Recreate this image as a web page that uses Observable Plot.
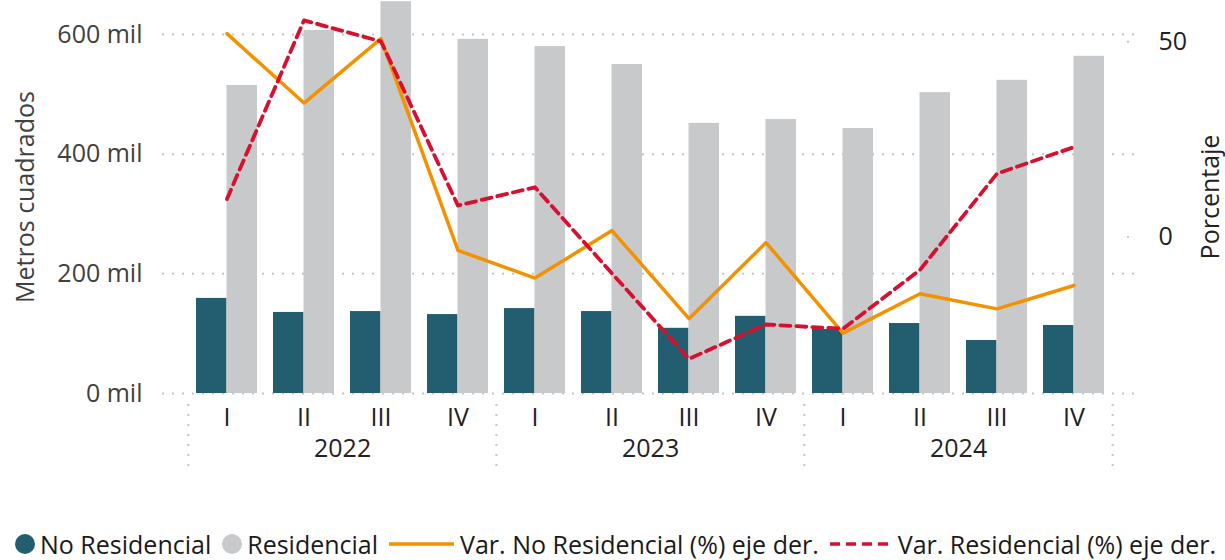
<!DOCTYPE html>
<html><head><meta charset="utf-8">
<script src="https://cdn.jsdelivr.net/npm/d3@7"></script>
<script src="https://cdn.jsdelivr.net/npm/@observablehq/plot@0.6"></script>
<style>
body{margin:0;background:#fff;font-family:"Open Sans",sans-serif;}
#legend{display:flex;align-items:center;height:40px;margin-top:24px;padding-left:15px;font-size:25px;color:#1a1a1a;white-space:nowrap;}
.item{display:flex;align-items:center;margin-right:11px;}
.item svg{margin-right:6px;display:block}
</style></head><body>
<div id="chart"></div><div id="legend"></div>
<script>
const years = ["2022", "2023", "2024"];
const quarters = ["I", "II", "III", "IV"];
const noResidencial = [159000, 135500, 137000, 132000, 142000, 137000, 109000, 129000, 107000, 117000, 88600, 113700];
const residencial = [515000, 607000, 655000, 592000, 580000, 550000, 451600, 458000, 443000, 503000, 523500, 563700];
const varNoResidencial = [52.1, 34.3, 50.8, -3.5, -10.6, 1.6, -21.0, -1.5, -24.7, -14.6, -18.5, -12.5];
const varResidencial = [9.7, 55.5, 50.1, 8.0, 12.7, -9.4, -31.3, -22.5, -23.6, -8.5, 16.2, 23.0];
const leftTicks = [0, 200000, 400000, 600000];
const rightTicks = [0, 50];
const leftDomain = [0, 657000];
const rightDomain = [-40.2, 60.6];
const seriesNames = ["No Residencial", "Residencial", "Var. No Residencial (%) eje der.", "Var. Residencial (%) eje der."];
const colors = ["#235E70", "#C8C9CB", "#F39200", "#D7102F"];

const keys = years.flatMap(y => quarters.map(q => `${y}-${q}`));
const data = keys.map((k, i) => ({k, nores: noResidencial[i], res: residencial[i], vn: varNoResidencial[i], vr: varResidencial[i]}));
const toLeft = p => (p - rightDomain[0]) / (rightDomain[1] - rightDomain[0]) * leftDomain[1];
const fromLeft = v => v / leftDomain[1] * (rightDomain[1] - rightDomain[0]) + rightDomain[0];

const W = 1225, H = 500, mL = 162, mR = 90, mT = 0, mB = 107, inL = 24, inR = 22;
const step = (W - mL - mR - inL - inR) / keys.length;
const grid = {stroke: "#c4c4c4", strokeWidth: 2, strokeDasharray: "2,8"};

const chart = Plot.plot({
  width: W, height: H, marginTop: mT, marginBottom: mB, marginLeft: mL, marginRight: mR,
  style: {fontFamily: "Open Sans", fontSize: "25px", color: "#222", background: "white"},
  x: {type: "band", domain: keys, paddingInner: 0.21, paddingOuter: 0.105, insetLeft: inL, insetRight: inR},
  y: {domain: leftDomain},
  marks: [
    Plot.ruleY(leftTicks, grid),
    Plot.ruleY(rightTicks.map(toLeft), {...grid, insetLeft: W - mL - mR - 8, insetRight: -2}),
    Plot.barY(data, {x: "k", y: "nores", fill: colors[0], insetRight: 30.5}),
    Plot.barY(data, {x: "k", y: "res", fill: colors[1], insetLeft: 30.5}),
    Plot.lineY(data, {x: "k", y: d => toLeft(d.vn), stroke: colors[2], strokeWidth: 3.5}),
    Plot.lineY(data, {x: "k", y: d => toLeft(d.vr), stroke: colors[3], strokeWidth: 3.8, strokeDasharray: "10,6"}),
    Plot.axisY({ticks: leftTicks, tickSize: 0, tickPadding: 20, tickFormat: d => `${d / 1000} mil`, label: null, fill: "#404040"}),
    Plot.axisY({anchor: "right", ticks: rightTicks.map(toLeft), tickSize: 0, tickPadding: 23, tickFormat: d => String(Math.abs(Math.round(fromLeft(d)))), label: null, fill: "#222"}),
    Plot.axisX({tickSize: 0, tickPadding: 15, tickFormat: d => d.split("-")[1], label: null, fill: "#222"}),
    Plot.text(years, {x: y => `${y}-II`, dx: step / 2, frameAnchor: "bottom", dy: 63, text: d => d, fill: "#222"}),
    Plot.ruleX(years.map(y => `${y}-I`), {...grid, dx: -step / 2, insetTop: 404, insetBottom: -81}),
    Plot.ruleX([keys[keys.length - 1]], {...grid, dx: step / 2, insetTop: 404, insetBottom: -81}),
    Plot.text(["Metros cuadrados"], {frameAnchor: "left", textAnchor: "middle", rotate: -90, dx: -129, lineAnchor: "bottom", text: d => d, fill: "#404040"}),
    Plot.text(["Porcentaje"], {frameAnchor: "right", textAnchor: "middle", rotate: -90, dx: 83, lineAnchor: "bottom", text: d => d, fill: "#222"})
  ]
});
document.getElementById("chart").append(chart);

const legend = document.getElementById("legend");
seriesNames.forEach((name, i) => {
  const item = document.createElement("div");
  item.className = "item";
  let marker;
  if (i < 2) {
    marker = `<svg width="20" height="20" style="margin-right:5px"><circle cx="10" cy="10" r="10" fill="${colors[i]}"/></svg>`;
  } else {
    const w = i === 2 ? 65 : 62;
    const dash = i === 3 ? ' stroke-dasharray="10,6"' : '';
    marker = `<svg width="${w}" height="20"><line x1="0" x2="${w}" y1="10" y2="10" stroke="${colors[i]}" stroke-width="3.5"${dash}/></svg>`;
  }
  item.innerHTML = marker + `<span>${name}</span>`;
  legend.append(item);
});
</script>
</body></html>
